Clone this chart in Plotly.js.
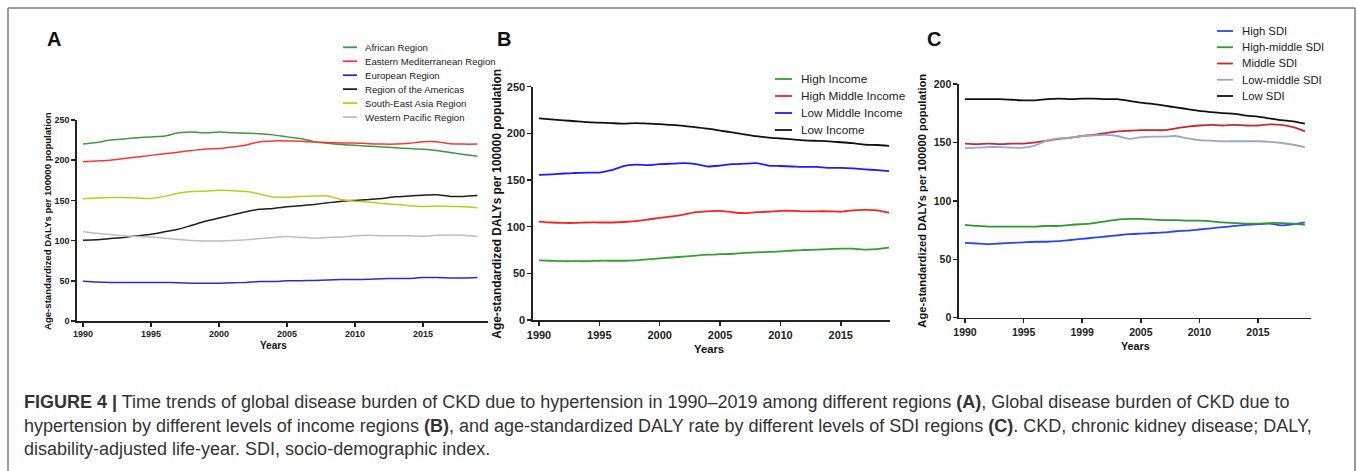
<!DOCTYPE html>
<html><head><meta charset="utf-8">
<script src="https://cdn.plot.ly/plotly-3.0.1.min.js"></script>
<style>html,body{margin:0;padding:0;background:#fff;}#chart{width:1357px;height:471px;}</style>
</head><body><div id="chart"></div>
<script>
// ---------- DATA ----------
const years = [1990,1991,1992,1993,1994,1995,1996,1997,1998,1999,2000,2001,2002,2003,2004,2005,2006,2007,2008,2009,2010,2011,2012,2013,2014,2015,2016,2017,2018,2019];

// Panel A: WHO regions
const africanRegion   = [220,222,225,226.5,228,229,230,234,235,234,235,234,233.5,233,231.5,229,227,223,221,219.5,218.5,217.5,216.5,215.5,214.5,213.5,212,209.5,207,205];
const easternMed      = [198,199,200,202,204,206,208,210,212,214,214.5,216.5,219,223,224,224,223.5,222.5,222,221.5,221.5,220.5,220,220,221,223,223,220.5,220,220];
const europeanRegion  = [49.5,48.5,48,48,48,48,48,47.5,47,47,47,47.5,48,49,49,50,50,50.5,51,51.5,51.5,52,52.5,53,53,54,54,53.5,53.5,54];
const americasRegion  = [100.5,101,102.5,104,106,108,111,114,119,124,128,132,136,139,140,142,143.5,145,147,149,150,151,152.5,154.5,155.5,156.5,157,155,155,156];
const seAsiaRegion    = [152,153,153.5,153.5,153,152.5,155,159,161,161.5,162.5,162,161,158,154,154,155,155.5,155.5,151,149,148,146,145,143.5,142.5,143,142.5,142,141];
const westPacific     = [111,109,107.5,106,105,104.5,103,101.5,100,99.5,99.5,100,101,102.5,104,105,104,103,104,104.5,106,106.5,106,106,106,105.5,106.5,107,106.5,105];

// Panel B: income levels
const highIncome       = [64,63.5,63,63,63,63.5,63.5,63.5,64,65,66,67,68,69,70,70.5,71,72,72.5,73,73.5,74.5,75,75.5,76,76.5,76.5,75.5,76,77.5];
const highMiddleIncome = [105.5,104.5,104,104,104.5,104.5,104.5,105,106,107.5,109.5,111,113,115.5,116.5,117,115.5,114.5,115.5,116,117,117,116.5,116.5,116.5,116,117.5,118,117.5,115];
const lowMiddleIncome  = [155.5,156,157,157.5,158,158,160.5,165,166.5,166,167,167.5,168,167,164.5,165.5,167,167.5,168,165.5,165,164.5,164,164,163,163,162.5,161.5,160.5,159.5];
const lowIncome        = [216,215,214,213,212,211.5,211,210.5,211,210.5,210,209,208,206.5,205,203,201,199,197,195.5,194.5,193.5,192.5,192,191.5,190.5,189.5,188,187.5,186.5];

// Panel C: SDI levels
const highSDI       = [64,63.5,63,63.5,64,64.5,65,65,65.5,66.5,67.5,68.5,69.5,70.5,71.5,72,72.5,73,74,74.5,75.5,76.5,77.5,78.5,79.5,80,80.5,79,80,81.5];
const highMiddleSDI = [79.5,78.5,78,78,78,78,78,78.5,78.5,79.5,80,81,82.5,84,84.5,84.5,84,83.5,83.5,83,83,82.5,81.5,81,80.5,80.5,81,81,80.5,79.5];
const middleSDI     = [149,148.5,149,148.5,149,149,150,151.5,153,154,155.5,156.5,158,159.5,160,160.5,160.5,160.5,162,163.5,164.5,165,164.5,165,164.5,164.5,165.5,165,163,159.5];
const lowMiddleSDI  = [145,145.5,146,146,145.5,145.5,147.5,151.5,153.5,154,155.5,156,156.5,155.5,153,154.5,155,155,155.5,153.5,152,151.5,151,151,151,151,150.5,149.5,148,146];
const lowSDI        = [187,187,187,187,186.5,186,186,187,187.5,187,187.5,187.5,187,187,185.5,184,183,181.5,180,178.5,177,176,175,174.5,173,172,170.5,169,168,166];

const xTickVals   = [1990,1995,2000,2005,2010,2015];
const xTickTextAB = ['1990','1995','2000','2005','2010','2015'];
const xTickTextC  = ['1990','1995','1999','2005','2010','2015'];
const yTicksAB = [0,50,100,150,200,250];
const yTicksC  = [0,50,100,150,200];

const yTitle = 'Age-standardized DALYs per 100000 population';
const xTitle = 'Years';

const seriesA = [
  {name:'African Region', y:africanRegion, color:'#3a9c3a'},
  {name:'Eastern Mediterranean Region', y:easternMed, color:'#ff3535'},
  {name:'European Region', y:europeanRegion, color:'#2a2ad8'},
  {name:'Region of the Americas', y:americasRegion, color:'#1e1e1e'},
  {name:'South-East Asia Region', y:seAsiaRegion, color:'#c8c816'},
  {name:'Western Pacific Region', y:westPacific, color:'#bdbdbd'}
];
const seriesB = [
  {name:'High Income', y:highIncome, color:'#33a033'},
  {name:'High Middle Income', y:highMiddleIncome, color:'#ff2020'},
  {name:'Low Middle Income', y:lowMiddleIncome, color:'#1c1cff'},
  {name:'Low Income', y:lowIncome, color:'#111111'}
];
const seriesC = [
  {name:'High SDI', y:highSDI, color:'#2a46f5'},
  {name:'High-middle SDI', y:highMiddleSDI, color:'#2e9a2e'},
  {name:'Middle SDI', y:middleSDI, color:'#c8282e'},
  {name:'Low-middle SDI', y:lowMiddleSDI, color:'#9aa6cc'},
  {name:'Low SDI', y:lowSDI, color:'#111111'}
];

// ---------- LAYOUT HELPERS ----------
const W = 1357, H = 471;
const px = v => v / W;
const py = v => 1 - v / H;
const FONT = 'Liberation Sans, Arial, Helvetica, sans-serif';

function xAxis(x0, x1, r0, r1, text, fs, anchor) {
  return {domain:[px(x0), px(x1)], range:[r0, r1], anchor:anchor,
    tickmode:'array', tickvals:xTickVals, ticktext:text,
    showline:true, linecolor:'#222', linewidth:1.6, showgrid:false, zeroline:false,
    ticks:'outside', ticklen:4, tickwidth:1.5, tickcolor:'#222',
    tickfont:{family:FONT, size:fs, color:'#222', weight:700}};
}
function yAxis(yBottom, yTop, rmax, vals, fs, anchor) {
  return {domain:[py(yBottom), py(yTop)], range:[0, rmax], anchor:anchor,
    tickmode:'array', tickvals:vals,
    showline:true, linecolor:'#222', linewidth:1.6, showgrid:false, zeroline:false,
    ticks:'outside', ticklen:4, tickwidth:1.5, tickcolor:'#222',
    tickfont:{family:FONT, size:fs, color:'#222', weight:700}};
}

const traces = [];
function addSeries(series, xa, ya, width) {
  series.forEach(s => traces.push({x:years, y:s.y, type:'scatter', mode:'lines',
    name:s.name, xaxis:xa, yaxis:ya, showlegend:false,
    line:{color:s.color, width:width, shape:'spline', smoothing:0.6}, hoverinfo:'skip'}));
}
addSeries(seriesA, 'x', 'y', 1.5);
addSeries(seriesB, 'x2', 'y2', 1.8);
addSeries(seriesC, 'x3', 'y3', 1.8);

const shapes = [];
const annotations = [];

// legends drawn from the series arrays
function legend(series, lx0, lx1, tx, y0, dy, fs) {
  series.forEach((s, i) => {
    const yy = y0 + i * dy;
    shapes.push({type:'line', xref:'paper', yref:'paper', x0:px(lx0), x1:px(lx1), y0:py(yy), y1:py(yy),
      line:{color:s.color, width:1.8}});
    annotations.push({xref:'paper', yref:'paper', x:px(tx), y:py(yy), xanchor:'left', yanchor:'middle',
      text:s.name, showarrow:false, font:{family:FONT, size:fs, color:'#222'}});
  });
}
legend(seriesA, 343, 357, 363, 47.3, 13.95, 9.6);
legend(seriesB, 775, 792, 799, 79, 17, 11.8);
legend(seriesC, 1217, 1233, 1240, 31, 16.25, 11.3);

function label(text, x, y, fs, angle) {
  annotations.push({xref:'paper', yref:'paper', x:px(x), y:py(y), xanchor:'center', yanchor:'middle',
    text:'<b>' + text + '</b>', showarrow:false, textangle:angle || 0,
    font:{family:FONT, size:fs, color:'#111'}});
}
label('A', 53.5, 39, 20);
label('B', 504.3, 39, 20);
label('C', 934.3, 39, 20);
label(yTitle, 47, 221, 9.6, -90);
label(yTitle, 496.7, 204, 11.9, -90);
label(yTitle, 921.7, 201, 11.2, -90);
label(xTitle, 273.3, 345, 10);
label(xTitle, 709.3, 349, 11.3);
label(xTitle, 1135, 345.7, 10.8);

// frame
[[8,8,1355,8],[8,8,8,471],[1355,8,1355,471]].forEach(c => shapes.push({type:'line', xref:'paper', yref:'paper',
  x0:px(c[0]), y0:py(c[1]), x1:px(c[2]), y1:py(c[3]), line:{color:'#7a7a7a', width:1.5}}));

// caption
const captionLines = [
  '<b>FIGURE 4 |</b> Time trends of global disease burden of CKD due to hypertension in 1990–2019 among different regions <b>(A)</b>, Global disease burden of CKD due to',
  'hypertension by different levels of income regions <b>(B)</b>, and age-standardized DALY rate by different levels of SDI regions <b>(C)</b>. CKD, chronic kidney disease; DALY,',
  'disability-adjusted life-year. SDI, socio-demographic index.'
];
const captionY = [401.5, 425.5, 449];
captionLines.forEach((t, i) => annotations.push({xref:'paper', yref:'paper', x:px(22), y:py(captionY[i]),
  xanchor:'left', yanchor:'middle', text:t, showarrow:false, font:{family:FONT, size:18, color:'#333'}}));

const layout = {
  width:W, height:H, margin:{l:0, r:0, t:0, b:0}, paper_bgcolor:'#fff', plot_bgcolor:'rgba(0,0,0,0)',
  showlegend:false,
  xaxis:  xAxis(77, 488, 1990 - 6/13.6, 1990 + 405/13.6, xTickTextAB, 9, 'y'),
  yaxis:  yAxis(321, 120, 250, yTicksAB, 9, 'x'),
  xaxis2: xAxis(533, 890, 1990 - 6/12.07, 1990 + 351/12.07, xTickTextAB, 11, 'y2'),
  yaxis2: yAxis(320, 86.7, 250, yTicksAB, 11, 'x2'),
  xaxis3: xAxis(959, 1311, 1990 - 6/11.72, 1990 + 346/11.72, xTickTextC, 10.5, 'y3'),
  yaxis3: yAxis(317.7, 84, 200, yTicksC, 10.5, 'x3'),
  shapes:shapes, annotations:annotations
};
Plotly.newPlot('chart', traces, layout, {staticPlot:true, displayModeBar:false});
</script></body></html>
